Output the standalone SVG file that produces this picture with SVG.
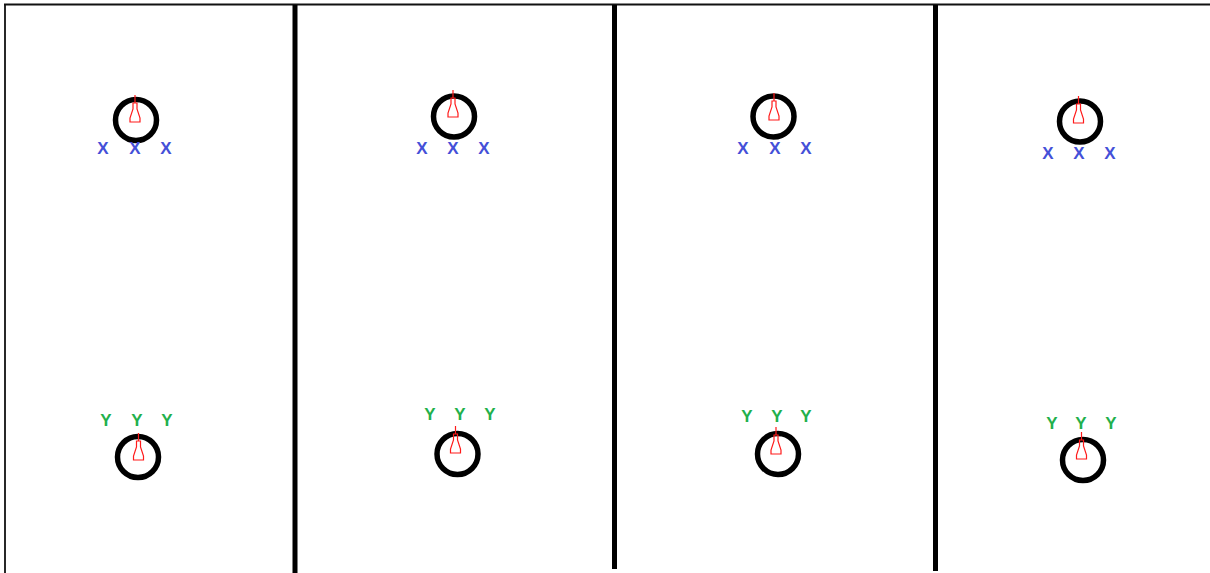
<svg xmlns="http://www.w3.org/2000/svg" xmlns:xlink="http://www.w3.org/1999/xlink" width="1210" height="573" viewBox="0 0 1210 573">
<style>
.ring{fill:none;stroke:#000;stroke-width:5.5}
.pin{fill:none;stroke:#ff1a1a;stroke-width:1.2}
.div{stroke:#000;stroke-width:5}
.x{font-family:"Liberation Sans",Arial,sans-serif;font-weight:bold;font-size:17px;fill:#4450d8;text-anchor:middle}
.y{font-family:"Liberation Sans",Arial,sans-serif;font-weight:bold;font-size:17px;fill:#22b04c;text-anchor:middle}
</style>
<defs>
<g id="pin">
<path class="pin" d="M0,0 V8 M-2,8 H2 V14 L5,23 V27 H-5 V23 L-2,14 Z"/>
</g>
</defs>
<rect width="1210" height="573" fill="#fff"/>
<g id="frame">
<line x1="4" y1="4.5" x2="1210" y2="4.5" stroke="#111" stroke-width="1.8"/>
<line x1="5" y1="4" x2="5" y2="573" stroke="#111" stroke-width="1.8"/>
<line class="div" x1="295" y1="5" x2="295" y2="573"/>
<line class="div" x1="614.5" y1="5" x2="614.5" y2="569"/>
<line class="div" x1="935.5" y1="5" x2="935.5" y2="571"/>
</g>
<g id="p1top">
<circle class="ring" cx="136" cy="120" r="20.5"/>
<use xlink:href="#pin" x="135" y="95"/>
<text class="x" x="103" y="154">X</text><text class="x" x="135" y="154">X</text><text class="x" x="166" y="154">X</text>
</g>
<g id="p1bot">
<text class="y" x="106" y="426">Y</text><text class="y" x="137" y="426">Y</text><text class="y" x="167" y="426">Y</text>
<circle class="ring" cx="138" cy="457" r="20.5"/>
<use xlink:href="#pin" x="138.5" y="433"/>
</g>
<g id="p2top">
<circle class="ring" cx="454" cy="116.5" r="20.5"/>
<use xlink:href="#pin" x="453" y="90"/>
<text class="x" x="422" y="154">X</text><text class="x" x="453" y="154">X</text><text class="x" x="484" y="154">X</text>
</g>
<g id="p2bot">
<text class="y" x="430" y="420">Y</text><text class="y" x="460" y="420">Y</text><text class="y" x="490" y="420">Y</text>
<circle class="ring" cx="457.5" cy="454" r="20.5"/>
<use xlink:href="#pin" x="455.5" y="426"/>
</g>
<g id="p3top">
<circle class="ring" cx="773.5" cy="116.5" r="20.5"/>
<use xlink:href="#pin" x="774" y="93"/>
<text class="x" x="743" y="154">X</text><text class="x" x="775" y="154">X</text><text class="x" x="806" y="154">X</text>
</g>
<g id="p3bot">
<text class="y" x="747" y="422">Y</text><text class="y" x="777" y="422">Y</text><text class="y" x="806" y="422">Y</text>
<circle class="ring" cx="778" cy="454" r="20.5"/>
<use xlink:href="#pin" x="776" y="427"/>
</g>
<g id="p4top">
<circle class="ring" cx="1080" cy="121.5" r="20.5"/>
<use xlink:href="#pin" x="1078.5" y="96"/>
<text class="x" x="1048" y="159">X</text><text class="x" x="1079" y="159">X</text><text class="x" x="1110" y="159">X</text>
</g>
<g id="p4bot">
<text class="y" x="1052" y="429">Y</text><text class="y" x="1081" y="429">Y</text><text class="y" x="1111" y="429">Y</text>
<circle class="ring" cx="1083" cy="460" r="20.5"/>
<use xlink:href="#pin" x="1081.5" y="432"/>
</g>
<g id="connectors"/>
</svg>
